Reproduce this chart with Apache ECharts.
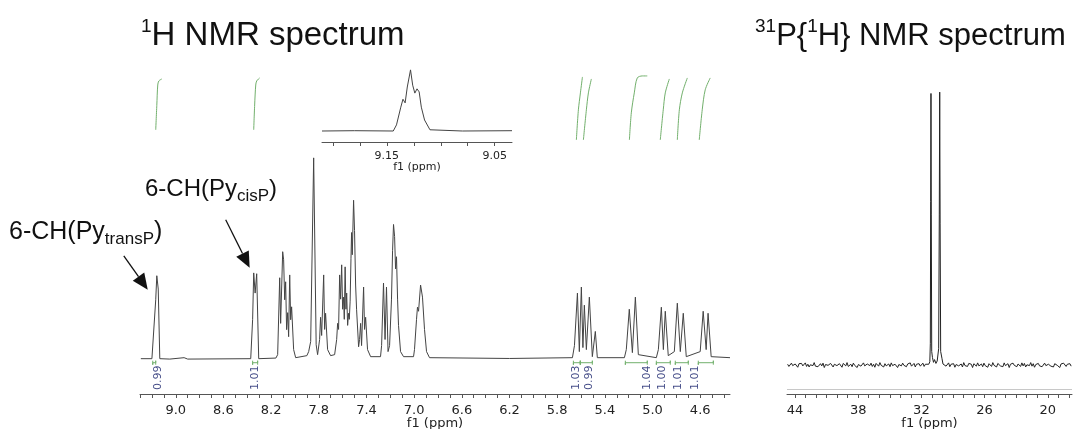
<!DOCTYPE html>
<html>
<head>
<meta charset="utf-8">
<script src="https://cdn.jsdelivr.net/npm/echarts@6/dist/echarts.min.js"></script>
<style>
  html, body { margin: 0; padding: 0; background: #fff; }
  #chart { width: 1073px; height: 429px; }
</style>
</head>
<body>
<div id="chart"></div>
<script>
// 1H trace, [ppm, intensity] (tallest line = 100)
const h1Trace = [
  [9.293, 0.5], [9.20, 0.5], [9.184, 0.5], [9.168, 29.7], [9.159, 41.6], [9.147, 35], [9.134, 0.5],
  [9.05, 0.3], [8.93, 1], [8.90, 0.3],
  [8.371, 0.5], [8.355, 20], [8.346, 43], [8.334, 33], [8.321, 42.6], [8.304, 0.5],
  [8.16, 0.8], [8.145, 2.5], [8.128, 40.6], [8.120, 18], [8.103, 53.5], [8.095, 49.5], [8.086, 29.7],
  [8.078, 38.6], [8.070, 14.9], [8.061, 23.3], [8.053, 11.4], [8.044, 42], [8.036, 19.8], [8.028, 26.2],
  [8.011, 5], [7.994, 1], [7.90, 2], [7.885, 4], [7.868, 9], [7.843, 100], [7.822, 7.4], [7.810, 2.5],
  [7.793, 10], [7.785, 21], [7.776, 12], [7.759, 42], [7.751, 15], [7.743, 23], [7.726, 5], [7.701, 2],
  [7.667, 2.5], [7.650, 10], [7.642, 18], [7.634, 15], [7.625, 42], [7.617, 30], [7.608, 47], [7.600, 25],
  [7.592, 31], [7.586, 20], [7.579, 46], [7.572, 25], [7.566, 33], [7.558, 17], [7.550, 23], [7.544, 20],
  [7.537, 29], [7.530, 50], [7.525, 63], [7.519, 52], [7.508, 79], [7.500, 64], [7.491, 37], [7.483, 25],
  [7.466, 6.4], [7.458, 10], [7.449, 18], [7.441, 7], [7.424, 36], [7.416, 15], [7.407, 21], [7.391, 5],
  [7.365, 1.5], [7.282, 1.5], [7.273, 7], [7.257, 38], [7.244, 10], [7.232, 36], [7.219, 4], [7.206, 7],
  [7.190, 30], [7.181, 54], [7.173, 67], [7.164, 61], [7.156, 45], [7.148, 51], [7.139, 30], [7.131, 17],
  [7.114, 4], [7.089, 1.5], [7.005, 1.5], [6.997, 5], [6.980, 20], [6.972, 26], [6.963, 24], [6.946, 37],
  [6.930, 31], [6.913, 15], [6.896, 4], [6.871, 1], [6.2, 0.6],
  [5.672, 1], [5.655, 7], [5.630, 33], [5.614, 4], [5.597, 36], [5.584, 6], [5.572, 27], [5.555, 5],
  [5.530, 31], [5.505, 1.5], [5.480, 14], [5.463, 1],
  [5.236, 1], [5.220, 5], [5.195, 25], [5.169, 3.5], [5.144, 31], [5.119, 2.5],
  [4.968, 1], [4.951, 5], [4.926, 26], [4.909, 5], [4.893, 24], [4.868, 2],
  [4.817, 4], [4.792, 28], [4.767, 4], [4.742, 23], [4.717, 1.5],
  [4.600, 4], [4.575, 24], [4.550, 5], [4.534, 23], [4.508, 1.5], [4.35, 1]
];

// zoomed 9.13 ppm signal (inset), tallest point = 100
const insetTrace = [
  [9.210, 0], [9.18, 0.5], [9.144, 0], [9.141, 10], [9.137, 39], [9.135, 52], [9.133, 46], [9.131, 72],
  [9.128, 100], [9.126, 75], [9.124, 62], [9.122, 69], [9.120, 64], [9.118, 39], [9.115, 18], [9.110, 2],
  [9.08, 0], [9.034, 0.5]
];

// integral curves (green), same units as h1Trace
const integralCurves = [
  [[9.168, 113.9], [9.159, 126], [9.151, 136.1], [9.142, 138.1], [9.117, 139.1]],
  [[8.346, 113.9], [8.338, 126.2], [8.329, 136.1], [8.321, 138.1], [8.296, 139.6]],
  [[5.639, 108.9], [5.622, 123.8], [5.605, 132.2], [5.588, 140.1]],
  [[5.580, 108.9], [5.555, 123.8], [5.538, 132.2], [5.513, 139.1]],
  [[5.194, 108.9], [5.178, 122.3], [5.153, 132.2], [5.128, 139.6], [5.086, 140.6], [5.044, 140.6]],
  [[4.935, 108.9], [4.910, 123.8], [4.893, 132.2], [4.859, 139.1]],
  [[4.792, 108.9], [4.775, 123.8], [4.750, 132.2], [4.708, 139.6]],
  [[4.608, 108.9], [4.583, 123.8], [4.558, 133.7], [4.516, 139.6]]
];
const integralRanges = [[9.193, 9.168], [8.355, 8.313], [5.664, 5.606], [5.606, 5.505],
  [5.228, 5.044], [4.968, 4.851], [4.809, 4.700], [4.616, 4.490]];
const integralValues = ['0.99', '1.01', '1.03', '0.99', '1.04', '1.00', '1.01', '1.01'];
const integralLabelPpm = [9.151, 8.338, 5.639, 5.530, 5.044, 4.918, 4.784, 4.641];

// 31P{1H}: sampled baseline noise either side of the two lines
const p31Start = 44.7;
const p31Step = 0.12;
const p31NoiseLeft = [
  0.3, -0.5, 0.1, 0.7, -0.2, -0.6, 0.4, 0.2, -0.8, 0.5,
  0.0, 0.6, -0.3, -0.1, 0.8, -0.5, 0.3, -0.7, 0.1, 0.4,
  -0.2, 0.9, -0.4, 0.2, -0.6, 0.0, 0.5, -0.3, 0.7, -0.9,
  0.2, 0.4, -0.1, -0.5, 0.6, 0.1, -0.7, 0.3, 0.8, -0.2,
  -0.4, 0.5, 0.0, -0.8, 0.6, 0.2, -0.3, 0.9, -0.5, 0.1,
  0.3, -0.6, 0.7, -0.1, 0.4, -0.9, 0.2, 0.5, -0.4, 0.0,
  0.8, -0.3, -0.6, 0.4, 0.1, -0.2, 0.7, -0.5, 0.3, -0.8,
  0.6, 0.0, -0.4, 0.9, -0.1, 0.2, -0.7, 0.5, -0.3, 0.1,
  0.4, -0.6, 0.8, -0.2, -0.5, 0.3, 0.6, -0.9, 0.2, 0.0,
  -0.3, 0.7, -0.1, 0.5, -0.6, 0.4, -0.2, 0.8, -0.4, 0.1,
  0.6, -0.7, 0.3, -0.1, 0.5, -0.4, 0.2, 0.7, -0.5, 0.3];
const p31Peaks = [
  [31.3, 0.3], [31.2, 1.2], [31.15, 8], [31.12, 60], [31.09, 99.5], [31.06, 55], [31.02, 5], [30.95, 2.8],
  [30.85, 1], [30.75, 2], [30.62, 0.6], [30.5, 1.5], [30.36, 6], [30.30, 55], [30.26, 100], [30.22, 52],
  [30.17, 5], [30.05, 2.5], [29.95, 0.4]
];
const p31NoiseRightStart = 29.9;
const p31NoiseRight = [
  -0.2, 0.6, -0.4, 0.1, 0.8, -0.6, 0.3, -0.1, 0.5, -0.8,
  0.2, 0.7, -0.3, 0.0, 0.4, -0.7, 0.9, -0.2, 0.1, -0.5,
  0.6, -0.1, 0.3, -0.9, 0.5, 0.2, -0.4, 0.8, -0.3, 0.0,
  0.4, -0.6, 0.7, -0.2, 0.1, -0.8, 0.5, 0.3, -0.5, 0.9,
  -0.1, 0.2, -0.7, 0.6, 0.0, -0.3, 0.4, -0.6, 0.8, -0.2,
  0.1, 0.5, -0.9, 0.3, -0.4, 0.7, -0.1, 0.2, -0.6, 0.4,
  0.0, -0.5, 0.8, -0.3, 0.6, -0.7, 0.1, 0.3, -0.2, 0.9,
  -0.4, 0.5, -0.8, 0.2, 0.0, 0.6, -0.3, 0.4, -0.6, 0.1,
  0.7, -0.2, -0.5, 0.3, 0.8, -0.4, 0.1, -0.7, 0.5, 0.2,
  -0.1, 0.6, -0.9, 0.4, -0.3, 0.7, 0.0, -0.5, 0.3, -0.2,
  0.5, -0.4];

// tick labels and tick marks
const h1Labels = [9.0, 8.6, 8.2, 7.8, 7.4, 7.0, 6.6, 6.2, 5.8, 5.4, 5.0, 4.6];
const h1Ticks = [9.3, 9.2, 9.1, 9.0, 8.9, 8.8, 8.7, 8.6, 8.5, 8.4, 8.3, 8.2, 8.1, 8.0, 7.9, 7.8, 7.7, 7.6,
  7.5, 7.4, 7.3, 7.2, 7.1, 7.0, 6.9, 6.8, 6.7, 6.6, 6.5, 6.4, 6.3, 6.2, 6.1, 6.0, 5.9, 5.8, 5.7, 5.6, 5.5,
  5.4, 5.3, 5.2, 5.1, 5.0, 4.9, 4.8, 4.7, 4.6, 4.5, 4.4];
const insetLabels = [9.15, 9.05];
const insetTicks = [9.2, 9.175, 9.15, 9.125, 9.1, 9.075, 9.05];
const p31Labels = [44, 38, 32, 26, 20];
const p31Ticks = [44, 43, 42, 41, 40, 39, 38, 37, 36, 35, 34, 33, 32, 31, 30, 29, 28, 27, 26, 25, 24, 23,
  22, 21, 20, 19, 18];

// arrows of the two annotations, in (ppm, intensity)
const arrowTrans = [[9.436, 51.5], [9.235, 34.7]];
const arrowCis = [[8.581, 69.3], [8.380, 45.5]];

const p31Trace = []
p31NoiseLeft.forEach((v, i) => p31Trace.push([+(p31Start - i * p31Step).toFixed(2), v]))
p31Peaks.forEach(p => p31Trace.push(p))
p31NoiseRight.forEach((v, i) => p31Trace.push([+(p31NoiseRightStart - i * p31Step).toFixed(2), v]))

const tickFont = 'DejaVu Sans'
const titleFont = 'Liberation Sans, Arial, sans-serif'
const green = '#72b06c'

function ppmAxis(gridIndex, min, max, ticks, labels, digits, fontSize, margin, nameGap) {
  return {
    type: 'value', gridIndex, min, max, inverse: true,
    axisLine: { show: true, onZero: false, lineStyle: { color: '#555', width: 1 } },
    axisTick: { show: true, customValues: ticks, length: 4, lineStyle: { color: '#555' } },
    axisLabel: {
      customValues: labels, formatter: v => Number(v).toFixed(digits),
      color: '#222', fontSize, fontFamily: tickFont, margin
    },
    splitLine: { show: false },
    name: 'f1 (ppm)', nameLocation: 'middle', nameGap, nameMoveOverlap: false,
    nameTextStyle: { color: '#222', fontSize: fontSize, fontFamily: tickFont }
  }
}

function richTitle(text, left, top, size, sub) {
  const extra = sub
    ? { sub: { fontSize: 17, lineHeight: 17, verticalAlign: 'bottom', fontFamily: titleFont, color: '#111' } }
    : { sup: { fontSize: 19, lineHeight: 19, verticalAlign: 'top', fontFamily: titleFont, color: '#111' } }
  return {
    text, left, top, padding: 0,
    textStyle: {
      fontSize: size, fontWeight: 'normal', color: '#111', fontFamily: titleFont,
      lineHeight: sub ? 31 : 38, rich: extra
    }
  }
}

const series = [
  {
    type: 'line', xAxisIndex: 0, yAxisIndex: 0, data: h1Trace, showSymbol: false,
    lineStyle: { color: '#444', width: 1 }, z: 3
  },
  {
    type: 'line', xAxisIndex: 1, yAxisIndex: 1, data: insetTrace, showSymbol: false,
    lineStyle: { color: '#444', width: 1 }
  },
  {
    type: 'line', xAxisIndex: 2, yAxisIndex: 2, data: p31Trace, showSymbol: false,
    lineStyle: { color: '#222', width: 1 },
    markLine: {
      silent: true, symbol: 'none', label: { show: false },
      lineStyle: { color: '#c8c8c8', width: 1, type: 'solid' },
      data: [{ yAxis: -8.8 }]
    }
  },
  {
    type: 'scatter', xAxisIndex: 0, yAxisIndex: 0, symbolSize: 1,
    itemStyle: { color: 'rgba(0,0,0,0)' },
    data: integralValues.map((t, i) => ({ name: t, value: [integralLabelPpm[i], -8.9] })),
    label: {
      show: true, position: 'inside', rotate: 90, formatter: p => p.name,
      color: '#17206a', fontSize: 11, fontFamily: tickFont
    },
    labelLayout: { hideOverlap: false }
  }
]
integralCurves.forEach(c => series.push({
  type: 'line', xAxisIndex: 0, yAxisIndex: 0, data: c, showSymbol: false, smooth: 0.3,
  lineStyle: { color: green, width: 1 }
}))
integralRanges.forEach(r => series.push({
  type: 'line', xAxisIndex: 0, yAxisIndex: 0, showSymbol: false,
  data: [[r[0], -0.5], [r[0], -2.5], [r[0], -1.5], [r[1], -1.5], [r[1], -0.5], [r[1], -2.5]],
  lineStyle: { color: green, width: 1 }
}))

const chart = echarts.init(document.getElementById('chart'))
chart.setOption({
  animation: false,
  backgroundColor: '#fff',
  title: [
    richTitle('{sup|1}H NMR spectrum', 141, 17, 33, false),
    richTitle('{sup|31}P{{sup|1}H} NMR spectrum', 755, 17, 31, false),
    richTitle('6-CH(Py{sub|transP})', 9, 217, 25, true),
    richTitle('6-CH(Py{sub|cisP})', 145, 174, 24, true)
  ],
  grid: [
    { left: 140, width: 590, top: 61, height: 333, outerBoundsMode: 'none' },
    { left: 322, width: 190, top: 65, height: 77, outerBoundsMode: 'none' },
    { left: 787, width: 285, top: 85, height: 309, outerBoundsMode: 'none' }
  ],
  xAxis: [
    ppmAxis(0, 4.35, 9.3, h1Ticks, h1Labels, 1, 13, 10, 23),
    ppmAxis(1, 9.034, 9.21, insetTicks, insetLabels, 2, 11, 9, 20),
    ppmAxis(2, 17.7, 44.76, p31Ticks, p31Labels, 0, 13, 10, 23)
  ],
  yAxis: [
    { type: 'value', gridIndex: 0, min: -17, max: 148, show: false },
    { type: 'value', gridIndex: 1, min: -18, max: 108, show: false },
    { type: 'value', gridIndex: 2, min: -10.6, max: 102.6, show: false }
  ],
  series
})

// annotation arrows, placed through the spectrum's own scales
function arrow(from, to) {
  const a = chart.convertToPixel({ gridIndex: 0 }, from)
  const b = chart.convertToPixel({ gridIndex: 0 }, to)
  const dx = b[0] - a[0], dy = b[1] - a[1]
  const len = Math.hypot(dx, dy)
  const ux = dx / len, uy = dy / len
  const headL = 16, headW = 7
  const bx = b[0] - ux * headL, by = b[1] - uy * headL
  return [
    { type: 'line', shape: { x1: a[0], y1: a[1], x2: bx, y2: by }, style: { stroke: '#111', lineWidth: 1.3 } },
    {
      type: 'polygon',
      shape: { points: [[b[0], b[1]], [bx - uy * headW, by + ux * headW], [bx + uy * headW, by - ux * headW]] },
      style: { fill: '#111' }
    }
  ]
}
chart.setOption({ graphic: [...arrow(arrowTrans[0], arrowTrans[1]), ...arrow(arrowCis[0], arrowCis[1])] })
</script>
</body>
</html>
